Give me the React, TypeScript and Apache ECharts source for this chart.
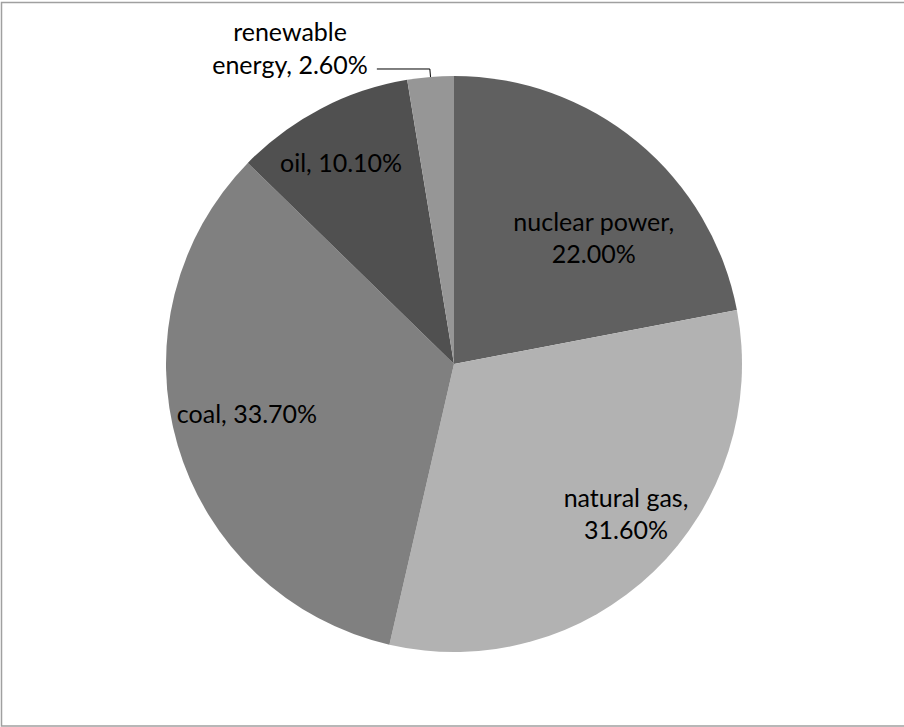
import React, { useEffect, useRef } from "react";
import * as echarts from "echarts";

// Energy mix shares (percent), clockwise from 12 o'clock
const categories = ["nuclear power", "natural gas", "coal", "oil", "renewable energy"];
const shares = [22.0, 31.6, 33.7, 10.1, 2.6];
const sliceColors = ["#606060", "#b2b2b2", "#808080", "#505050", "#969696"];

// Nudges for the inside labels, relative to the slice's default label anchor
const labelShifts: Array<[number, number] | null> = [
  [46, -14],
  [70, 43],
  [-66, 8],
  [-45, -72],
  null,
];

const FONT = "Lato, 'Open Sans', sans-serif";
const FONT_SIZE = 25;

function labelText(name: string, value: number, index: number): string {
  const pct = `${value.toFixed(2)}%`;
  if (index === 0 || index === 1) return `${name},\n${pct}`;
  if (index === 4) {
    const [first, second] = name.split(" ");
    return `{c|${first}}\n{c|${second}, ${pct}}`;
  }
  return `${name}, ${pct}`;
}

export default function App() {
  const ref = useRef<HTMLDivElement>(null);

  useEffect(() => {
    if (!ref.current) return;
    const chart = echarts.init(ref.current, undefined, { renderer: "svg" });

    const data = categories.map((name, i) => {
      const item: any = {
        name,
        value: shares[i],
        itemStyle: { color: sliceColors[i] },
      };
      if (i === 4) {
        item.label = {
          position: "outside",
          distanceToLabelLine: 9,
          padding: [0, 0, 42, 0],
          lineHeight: 33,
          rich: {
            c: {
              align: "center",
              fontFamily: FONT,
              fontSize: FONT_SIZE,
              lineHeight: 33,
              color: "#000",
            },
          },
        };
        item.labelLine = {
          show: true,
          length: 8,
          length2: 53,
          lineStyle: { color: "#000", width: 1 },
        };
      }
      return item;
    });

    chart.setOption({
      animation: false,
      backgroundColor: "#ffffff",
      graphic: [
        {
          type: "rect",
          shape: { x: 1.5, y: 2.5, width: 910, height: 723.5 },
          style: { fill: "none", stroke: "#a0a0a0", lineWidth: 1.5 },
          silent: true,
        },
      ],
      series: [
        {
          type: "pie",
          center: [454, 364],
          radius: [0, 288],
          startAngle: 90,
          clockwise: true,
          avoidLabelOverlap: false,
          itemStyle: { borderWidth: 0 },
          label: {
            show: true,
            position: "inside",
            color: "#000",
            fontFamily: FONT,
            fontSize: FONT_SIZE,
            lineHeight: 32,
            align: "center",
            formatter: (p: any) => labelText(p.name, p.value, p.dataIndex),
          },
          labelLine: { show: false },
          labelLayout: (p: any) => {
            const s = labelShifts[p.dataIndex];
            return s ? { dx: s[0], dy: s[1] } : {};
          },
          emphasis: { disabled: true },
          data,
        },
      ],
    });

    return () => chart.dispose();
  }, []);

  return (
    <div
      ref={ref}
      style={{ position: "fixed", left: 0, top: 0, width: 904, height: 727 }}
    />
  );
}
